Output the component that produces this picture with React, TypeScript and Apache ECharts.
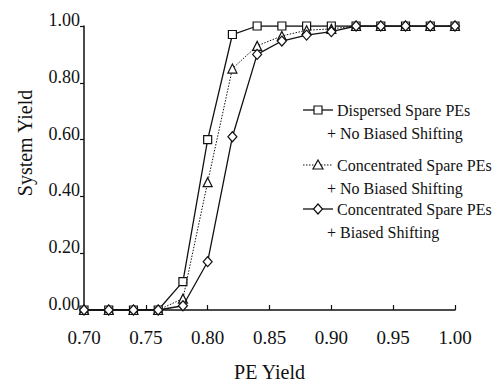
import React, { useEffect, useRef } from "react";
import * as echarts from "echarts";

const peYield = [0.7, 0.72, 0.74, 0.76, 0.78, 0.8, 0.82, 0.84, 0.86, 0.88, 0.9, 0.92, 0.94, 0.96, 0.98, 1.0];
const dispersedNoBias = [0, 0, 0, 0, 0.1, 0.6, 0.97, 1, 1, 1, 1, 1, 1, 1, 1, 1];
const concentratedNoBias = [0, 0, 0, 0, 0.04, 0.45, 0.85, 0.93, 0.965, 0.985, 0.99, 1, 1, 1, 1, 1];
const concentratedBiased = [0, 0, 0, 0, 0.015, 0.17, 0.61, 0.9, 0.947, 0.968, 0.98, 1, 1, 1, 1, 1];

const seriesNames = ["Dispersed Spare PEs", "Concentrated Spare PEs", "Concentrated Spare PEs"];
const seriesSubNames = ["+ No Biased Shifting", "+ No Biased Shifting", "+ Biased Shifting"];

const FONT = "Liberation Serif";
const INK = "#111";

const fmt = (v: number) => (Math.round(v * 100) / 100).toFixed(2);

export default function App() {
  const ref = useRef<HTMLDivElement>(null);
  useEffect(() => {
    if (!ref.current) return;
    const chart = echarts.init(ref.current, null, { renderer: "svg" });
    const pts = (ys: number[]) => peYield.map((x, i) => [x, ys[i]]);

    const legendRows = [110, 165, 209];
    const legendGraphics: any[] = [];
    legendRows.forEach((y, i) => {
      legendGraphics.push({
        type: "line",
        shape: { x1: 303, y1: y, x2: 333, y2: y },
        style: { stroke: INK, lineWidth: i === 1 ? 1 : 1.3, lineDash: i === 1 ? [1.5, 1.5] : null },
      });
      if (i === 0) {
        legendGraphics.push({ type: "rect", shape: { x: 314, y: y - 4, width: 8, height: 8 }, style: { fill: "#fff", stroke: INK, lineWidth: 1.2 } });
      } else if (i === 1) {
        legendGraphics.push({ type: "polygon", shape: { points: [[318, y - 5], [323, y + 4], [313, y + 4]] }, style: { fill: "#fff", stroke: INK, lineWidth: 1.2 } });
      } else {
        legendGraphics.push({ type: "polygon", shape: { points: [[318, y - 5], [322.5, y], [318, y + 5], [313.5, y]] }, style: { fill: "#fff", stroke: INK, lineWidth: 1.2 } });
      }
      legendGraphics.push({
        type: "text",
        x: 337,
        y,
        style: { text: seriesNames[i], fontFamily: FONT, fontSize: 16, fill: INK, align: "left", verticalAlign: "middle" },
      });
      legendGraphics.push({
        type: "text",
        x: 327,
        y: y + 23,
        style: { text: seriesSubNames[i], fontFamily: FONT, fontSize: 16, fill: INK, align: "left", verticalAlign: "middle" },
      });
    });

    const markerStyle = { color: "#fff", borderColor: INK, borderWidth: 1.2 };

    chart.setOption({
      animation: false,
      backgroundColor: "#fff",
      textStyle: { fontFamily: FONT },
      grid: { left: 84, right: 41, top: 26, bottom: 74, outerBoundsMode: "none", containLabel: false },
      xAxis: {
        type: "value",
        min: 0.7,
        max: 1.0,
        interval: 0.05,
        name: "PE Yield",
        nameLocation: "middle",
        nameGap: 52,
        nameTextStyle: { fontFamily: FONT, fontSize: 20, color: INK },
        axisLine: { show: true, lineStyle: { color: INK, width: 1.5 } },
        axisTick: { show: true, inside: true, length: 5, lineStyle: { color: INK, width: 1.2 } },
        axisLabel: {
          fontFamily: FONT,
          fontSize: 19,
          color: INK,
          margin: 18,
          formatter: fmt,
        },
        splitLine: { show: false },
      },
      yAxis: {
        type: "value",
        min: 0,
        max: 1,
        interval: 0.2,
        axisLine: { show: true, lineStyle: { color: INK, width: 1.5 } },
        axisTick: { show: true, inside: false, length: 4, lineStyle: { color: INK, width: 1.2 } },
        axisLabel: {
          fontFamily: FONT,
          fontSize: 18,
          color: INK,
          margin: 4,
          verticalAlign: "bottom",
          lineHeight: 12,
          formatter: fmt,
        },
        splitLine: { show: false },
      },
      graphic: [
        {
          type: "text",
          x: 25,
          y: 143,
          rotation: Math.PI / 2,
          style: { text: "System Yield", fontFamily: FONT, fontSize: 20, fill: INK, align: "center", verticalAlign: "middle" },
        },
        ...legendGraphics,
      ],
      series: [
        {
          type: "line",
          name: seriesNames[0],
          data: pts(dispersedNoBias),
          symbol: "rect",
          symbolSize: 8,
          showAllSymbol: true,
          lineStyle: { color: INK, width: 1.3 },
          itemStyle: markerStyle,
          z: 2,
        },
        {
          type: "line",
          name: seriesNames[1],
          data: pts(concentratedNoBias),
          symbol: "triangle",
          symbolSize: 9,
          showAllSymbol: true,
          lineStyle: { color: INK, width: 1, type: [1.5, 1.5] },
          itemStyle: markerStyle,
          z: 3,
        },
        {
          type: "line",
          name: seriesNames[2],
          data: pts(concentratedBiased),
          symbol: "diamond",
          symbolSize: [9, 10],
          showAllSymbol: true,
          lineStyle: { color: INK, width: 1.3 },
          itemStyle: markerStyle,
          z: 4,
        },
      ],
    });
    return () => chart.dispose();
  }, []);
  return <div ref={ref} style={{ position: "fixed", left: 0, top: 0, width: 496, height: 384 }} />;
}
